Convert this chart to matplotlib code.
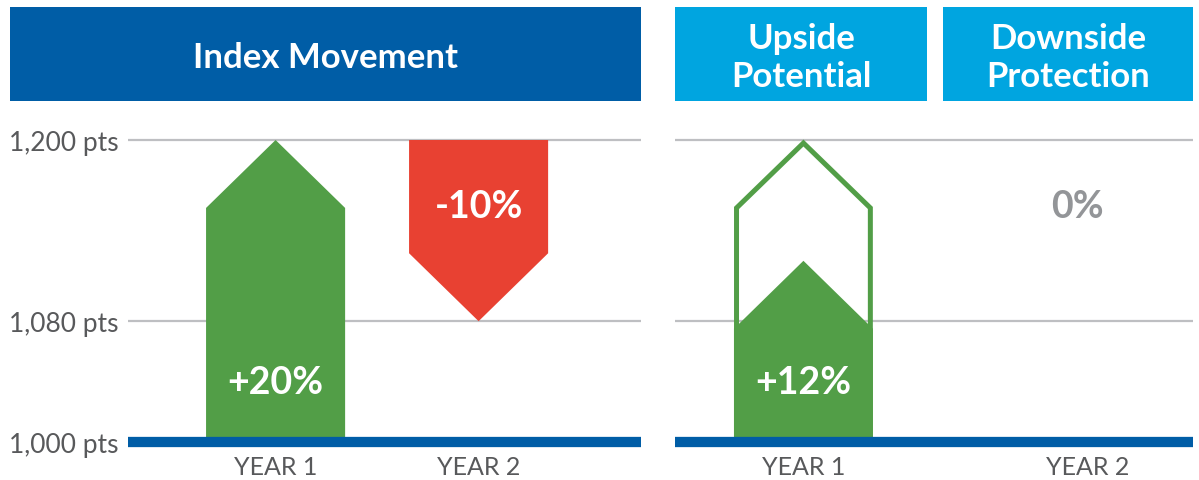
import matplotlib
matplotlib.use("Agg")
import matplotlib.pyplot as plt
from matplotlib.patches import Rectangle

plt.rcParams['font.family'] = ['Lato', 'DejaVu Sans']

# data
years = ['YEAR 1', 'YEAR 2']
base = 1000
index_end = [1200, 1080]          # index level at end of each year
index_labels = ['+20%', '-10%']
upside_cap = 1200                 # full index gain (outline)
credited = [1120, 1000]           # credited level
credited_labels = ['+12%', '0%']
ytick_vals = [1000, 1080, 1200]
ytick_labels = ['1,000 pts', '1,080 pts', '1,200 pts']

DARK = '#005DA6'
LIGHT = '#00A5E0'
GREEN = '#529E47'
RED = '#E84132'
GRID = '#BEBFC2'
TXT = '#58595B'
GREYLBL = '#939598'

W, H = 1199, 481
fig = plt.figure(figsize=(W / 100, H / 100), dpi=100)

# pixel layout
top_px, bot_px = 110, 450
base_px, scale = 443, 1.51
ylim = (base - (bot_px - base_px) / scale, base + (base_px - top_px) / scale)
head = 45


def make_ax(x0, x1, xlim):
    ax = fig.add_axes([x0 / W, 1 - bot_px / H, (x1 - x0) / W, (bot_px - top_px) / H])
    ax.set_xlim(*xlim)
    ax.set_ylim(*ylim)
    for s in ax.spines.values():
        s.set_visible(False)
    ax.set_yticks(ytick_vals)
    ax.grid(axis='y', color=GRID, lw=1.6, zorder=0)
    ax.set_axisbelow(True)
    ax.tick_params(length=0, labelsize=18, colors=TXT, pad=4)
    ax.tick_params(axis='y', labelsize=19, pad=7)
    ax.set_xticks(range(len(years)))
    ax.set_xticklabels(years)
    ax.axhline(base, color=DARK, lw=7.4, solid_capstyle='butt', zorder=5)
    return ax


def up_arrow(ax, x, w, y0, y1, **kw):
    xs = [x - w / 2, x - w / 2, x, x + w / 2, x + w / 2]
    ys = [y0, y1 - head, y1, y1 - head, y0]
    return ax.fill(xs, ys, **kw)


def down_arrow(ax, x, w, y0, y1, **kw):
    xs = [x - w / 2, x - w / 2, x, x + w / 2, x + w / 2]
    ys = [y0, y1 + head, y1, y1 + head, y0]
    return ax.fill(xs, ys, **kw)


# left panel: index movement
ax1 = make_ax(128, 641, (-0.727, 1.80))
ax1.set_yticklabels(ytick_labels)
bw1 = 0.685
up_arrow(ax1, 0, bw1, base, index_end[0], color=GREEN, lw=0, zorder=2)
down_arrow(ax1, 1, bw1, upside_cap, index_end[1], color=RED, lw=0, zorder=2)
ax1.text(0, 1040, index_labels[0], color='white', fontsize=27, fontweight='bold',
         ha='center', va='center', zorder=6)
ax1.text(1, 1156, index_labels[1], color='white', fontsize=27, fontweight='bold',
         ha='center', va='center', zorder=6)

# right panel: credited
ax2 = make_ax(675, 1193, (-0.452, 1.371))
ax2.set_yticklabels([''] * len(ytick_vals))
bw2 = 0.489
inset = 0.018
ax2.fill([0 - bw2 / 2 + inset / 2, 0 - bw2 / 2 + inset / 2, 0, 0 + bw2 / 2 - inset / 2, 0 + bw2 / 2 - inset / 2],
         [base, upside_cap - head, upside_cap - 2, upside_cap - head, base],
         facecolor='none', edgecolor=GREEN, lw=3.6, joinstyle='miter', zorder=2)
up_arrow(ax2, 0, bw2, base, credited[0], color=GREEN, lw=0, zorder=3)
ax2.text(0, 1040, credited_labels[0], color='white', fontsize=27, fontweight='bold',
         ha='center', va='center', zorder=6)
ax2.text(0.966, 1156, credited_labels[1], color=GREYLBL, fontsize=27, fontweight='bold',
         ha='center', va='center', zorder=6)

# header boxes
headers = [(10, 641, DARK, 'Index Movement', 58),
           (675, 927, LIGHT, 'Upside\nPotential', 58),
           (943, 1193, LIGHT, 'Downside\nProtection', 58)]
for x0, x1, c, t, ty in headers:
    fig.patches.append(Rectangle((x0 / W, 1 - 102 / H), (x1 - x0) / W, 94 / H,
                                 transform=fig.transFigure, color=c, lw=0))
    fig.text((x0 + x1) / 2 / W, 1 - ty / H, t, color='white', fontsize=25,
             fontweight='bold', ha='center', va='center', linespacing=1.22)

fig.savefig('out.png', dpi=100)
